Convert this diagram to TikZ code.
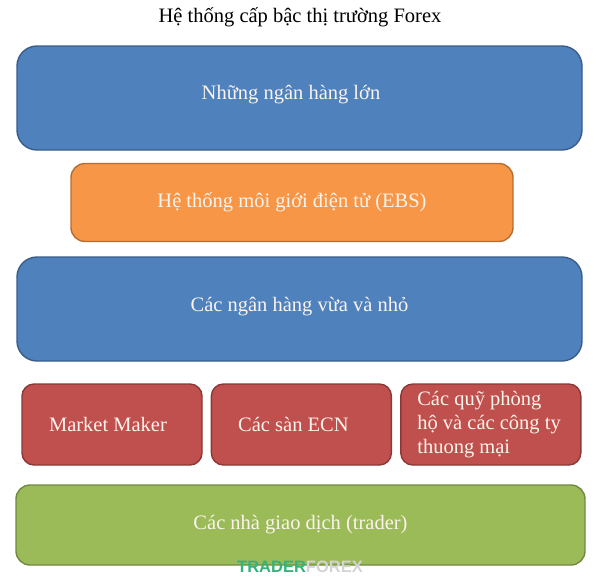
\documentclass[tikz,border=0pt]{standalone}
\usepackage{fontspec}
\setmainfont{Liberation Serif}
\newfontfamily\markfont{Liberation Sans}
\usepackage{xcolor}
\usepackage{tikz}
\usetikzlibrary{positioning}

\definecolor{bankblue}{HTML}{4F81BD}
\definecolor{bankblueline}{HTML}{385D8A}
\definecolor{ebsorange}{HTML}{F79646}
\definecolor{ebsorangeline}{HTML}{B66D31}
\definecolor{dealerred}{HTML}{C0504D}
\definecolor{dealerredline}{HTML}{8C3836}
\definecolor{tradergreen}{HTML}{9BBB59}
\definecolor{tradergreenline}{HTML}{71893F}
\definecolor{boxtext}{HTML}{FBF3EC}
\definecolor{markgreen}{HTML}{34B27A}
\definecolor{markgray}{HTML}{D4D4D4}

\begin{document}
\begin{tikzpicture}[x=1pt,y=-1pt]
% 1 unit = 1 px of the reference
    \def\WIDEW{565}   %width of the blue rows
    \def\WIDEH{104}
    \def\SMALLW{180}  %width of the red boxes
    \def\SMALLH{81}
    \def\GAP{8}

    \tikzset{
      level/.style={draw, line width=1.4pt, text=boxtext,
        font=\fontsize{20.5}{24}\selectfont, inner sep=0pt},
      boxlabel/.style={text=boxtext, font=\fontsize{20.5}{24}\selectfont,
        inner sep=0pt},
      bluebox/.style={level, fill=bankblue, draw=bankblueline,
        rounded corners=20pt, minimum width=\WIDEW, minimum height=\WIDEH},
      orangebox/.style={level, fill=ebsorange, draw=ebsorangeline,
        rounded corners=14pt, minimum width=442, minimum height=78},
      redbox/.style={level, fill=dealerred, draw=dealerredline,
        rounded corners=12pt, minimum width=\SMALLW, minimum height=\SMALLH},
      greenbox/.style={level, fill=tradergreen, draw=tradergreenline,
        rounded corners=14pt, minimum width=569, minimum height=80},
    }

    \useasboundingbox (0,0) rectangle (600,582);

    % TITLE
    \node (title) at (300,17) {\fontsize{20.5}{24}\selectfont
        Hệ thống cấp bậc thị trường Forex};

    % BIG BANKS
    \node [bluebox] (big) at (299.5,98) {};
    \node [boxlabel] at ([xshift=-8.5pt,yshift=3pt]big.center)
        {Những ngân hàng lớn};

    % EBS
    \node [orangebox] (ebs) at (292,202.5)
        {Hệ thống môi giới điện tử (EBS)};

    % SMALL BANKS
    \node [bluebox] (small) at (299.5,309) {};
    \node [boxlabel] at ([yshift=2pt]small.center)
        {Các ngân hàng vừa và nhỏ};

    % DEALERS ROW
    \node [redbox] (mm) at (112,424.5) {};
    \node [redbox, right=\GAP of mm] (ecn) {};
    \node [redbox, right=\GAP of ecn] (funds) {};
    \node [boxlabel] at ([xshift=-4pt]mm.center) {Market Maker};
    \node [boxlabel] at ([xshift=-8pt]ecn.center) {Các sàn ECN};
    \node [boxlabel, align=left, anchor=west] at ([xshift=17pt]funds.west)
        {Các quỹ phòng\\hộ và các công ty\\thuong mại};

    % TRADERS
    \node [greenbox] (traders) at (300.5,525)
        {Các nhà giao dịch (trader)};

    % watermark
    \node [font=\markfont\bfseries\fontsize{16.5}{16.5}\selectfont, inner sep=0pt]
        (mark) at (300,567) {\textcolor{markgreen}{TRADER}\textcolor{markgray}{FOREX}};

\end{tikzpicture}
\end{document}
